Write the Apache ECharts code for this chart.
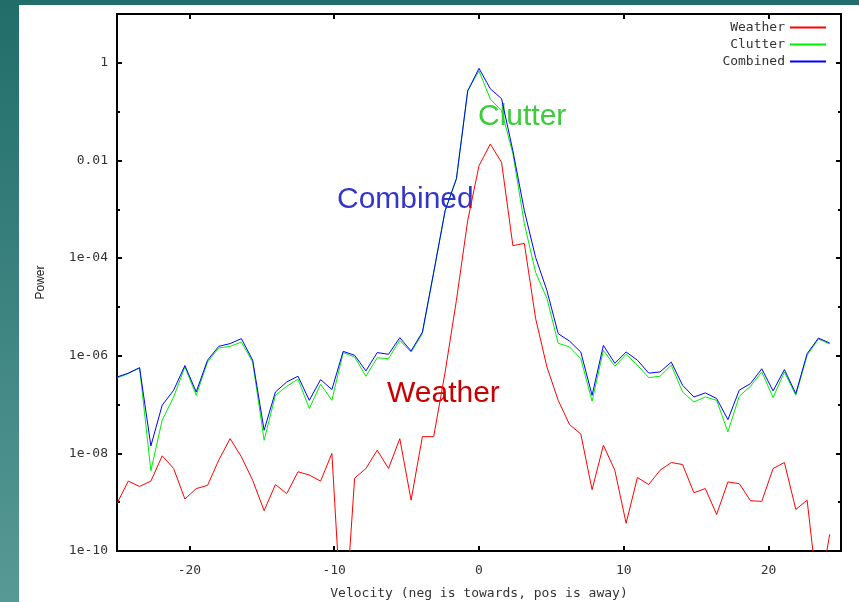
<!DOCTYPE html>
<html>
<head>
<meta charset="utf-8">
<script src="https://cdn.jsdelivr.net/npm/echarts@6/dist/echarts.min.js"></script>
<style>
  html, body { margin: 0; padding: 0; width: 859px; height: 602px; overflow: hidden; }
  body { background: linear-gradient(#216d6a, #579995); position: relative; }
  #paper { position: absolute; left: 19px; top: 5px; right: 0; bottom: 0; background: #fff; }
  #main { position: absolute; left: 0; top: 0; width: 859px; height: 602px; }
</style>
</head>
<body>
<div id="paper"></div>
<div id="main"></div>
<script>
// velocity bins (m/s)
var velocity = [-25, -24.22, -23.44, -22.66, -21.88, -21.09, -20.31, -19.53, -18.75, -17.97,
  -17.19, -16.41, -15.63, -14.84, -14.06, -13.28, -12.5, -11.72, -10.94, -10.16,
  -9.38, -8.59, -7.81, -7.03, -6.25, -5.47, -4.69, -3.91, -3.13, -2.34,
  -1.56, -0.78, 0, 0.78, 1.56, 2.34, 3.13, 3.91, 4.69, 5.47,
  6.25, 7.03, 7.81, 8.59, 9.38, 10.16, 10.94, 11.72, 12.5, 13.28,
  14.06, 14.84, 15.63, 16.41, 17.19, 17.97, 18.75, 19.53, 20.31, 21.09,
  21.88, 22.66, 23.44, 24.22];

var weather = [9.4e-10, 2.7e-9, 2.1e-9, 2.7e-9, 8.9e-9, 4.9e-9, 1.16e-9, 1.9e-9, 2.2e-9, 7.3e-9,
  2.0e-8, 8.5e-9, 2.8e-9, 6.7e-10, 2.3e-9, 1.5e-9, 4.2e-9, 3.6e-9, 2.7e-9, 1.0e-8,
  1e-12, 3.1e-9, 4.9e-9, 1.16e-8, 4.9e-9, 2.0e-8, 1.1e-9, 2.2e-8, 2.2e-8, 4.6e-7,
  1.36e-5, 5.9e-4, 7.8e-3, 0.0217, 9.1e-3, 1.8e-4, 2.0e-4, 5.8e-6, 5.9e-7, 1.22e-7,
  3.9e-8, 2.5e-8, 1.8e-9, 1.47e-8, 4.5e-9, 3.7e-10, 3.2e-9, 2.3e-9, 4.5e-9, 6.5e-9,
  5.9e-9, 1.56e-9, 1.9e-9, 5.6e-10, 2.6e-9, 2.4e-9, 1.07e-9, 1.04e-9, 4.9e-9, 6.5e-9,
  7.1e-10, 1.1e-9, 1e-11, 2.2e-10];

var clutter = [3.5e-7, 4.3e-7, 5.6e-7, 4.4e-9, 4.8e-8, 1.43e-7, 5.9e-7, 1.55e-7, 7.4e-7, 1.44e-6,
  1.56e-6, 1.9e-6, 7.4e-7, 1.86e-8, 1.55e-7, 2.37e-7, 3.3e-7, 8.3e-8, 2.6e-7, 1.22e-7,
  1.16e-6, 9.4e-7, 3.8e-7, 9.1e-7, 8.7e-7, 2.07e-6, 1.19e-6, 2.83e-6, 5.0e-5, 9.2e-4,
  4.15e-3, 0.267, 0.685, 0.181, 0.104, 0.0138, 5.1e-4, 5.1e-5, 1.49e-5, 1.8e-6,
  1.51e-6, 8.7e-7, 1.17e-7, 1.29e-6, 6.1e-7, 1.07e-6, 6.4e-7, 3.56e-7, 3.8e-7, 6.4e-7,
  1.81e-7, 1.13e-7, 1.43e-7, 1.22e-7, 2.75e-8, 1.48e-7, 2.37e-7, 4.65e-7, 1.39e-7, 4.65e-7,
  1.55e-7, 1.02e-6, 2.2e-6, 1.75e-6];

var combined = [3.66e-7, 4.4e-7, 5.7e-7, 1.42e-8, 9.7e-8, 1.96e-7, 6.3e-7, 1.81e-7, 8.1e-7, 1.56e-6,
  1.77e-6, 2.24e-6, 8.1e-7, 2.98e-8, 1.81e-7, 2.9e-7, 3.8e-7, 1.22e-7, 3.24e-7, 2.03e-7,
  1.23e-6, 1.02e-6, 4.9e-7, 1.16e-6, 1.07e-6, 2.34e-6, 1.25e-6, 3.05e-6, 5.1e-5, 9.4e-4,
  4.25e-3, 0.267, 0.77, 0.294, 0.184, 0.0158, 9.4e-4, 1.03e-4, 2.17e-5, 2.83e-6,
  2.0e-6, 1.19e-6, 1.55e-7, 1.63e-6, 7.0e-7, 1.19e-6, 8.1e-7, 4.4e-7, 4.65e-7, 7.4e-7,
  2.48e-7, 1.43e-7, 1.73e-7, 1.33e-7, 4.9e-8, 1.96e-7, 2.69e-7, 5.4e-7, 1.9e-7, 5.2e-7,
  1.68e-7, 1.1e-6, 2.3e-6, 1.82e-6];

var xTicks = [-20, -10, 0, 10, 20];
var seriesNames = ['Weather', 'Clutter', 'Combined'];
var seriesColors = ['#ff0000', '#00ee00', '#0000ff'];

var mono = 'DejaVu Sans Mono';

function pairs(vals) {
  return vals.map(function (v, i) { return [velocity[i], v]; });
}

function powerLabel(v) {
  var e = Math.round(Math.log10(v));
  if (e > 0) return '';
  if (e === 0) return '1';
  if (e >= -2) return String(Number(Math.pow(10, e).toFixed(-e)));
  var n = -e;
  return '1e-' + (n < 10 ? '0' + n : n);
}

function yAx(pos, interval, tickLen, showLabel, name) {
  return {
    type: 'log', logBase: 10, min: 1e-10, max: 10, interval: interval,
    position: pos,
    name: name || '',
    nameLocation: 'middle', nameGap: 70,
    nameTextStyle: { fontFamily: 'Liberation Sans', fontSize: 12, color: '#222' },
    axisLine: { show: true, onZero: false, lineStyle: { color: '#000', width: 2 } },
    axisTick: { show: true, inside: true, length: tickLen, lineStyle: { color: '#000', width: 2 } },
    axisLabel: { show: showLabel, showMaxLabel: false, formatter: powerLabel, fontFamily: mono, fontSize: 13, color: '#333', margin: 9 },
    splitLine: { show: false },
    minorTick: { show: false }
  };
}

function xAx(pos, showLabel, name) {
  return {
    type: 'value', min: -25, max: 25, position: pos,
    name: name || '',
    nameLocation: 'middle', nameGap: 36,
    nameTextStyle: { fontFamily: mono, fontSize: 13, color: '#333' },
    axisLine: { show: true, onZero: false, lineStyle: { color: '#000', width: 2 } },
    axisTick: { show: true, inside: true, length: 5, customValues: xTicks, lineStyle: { color: '#000', width: 2 } },
    axisLabel: { show: showLabel, customValues: xTicks, fontFamily: mono, fontSize: 13, color: '#333', margin: 13 },
    splitLine: { show: false }
  };
}

var myChart = echarts.init(document.getElementById('main'), null, { renderer: 'canvas' });

var legends = seriesNames.map(function (n, i) {
  return {
    data: [{ name: n, icon: 'rect', itemStyle: { color: seriesColors[i], borderWidth: 0 } }],
    right: 33, top: 21 + i * 17, orient: 'vertical', align: 'right',
    padding: 0, itemWidth: 36, itemHeight: 2, selectedMode: false,
    itemStyle: { color: seriesColors[i], borderWidth: 0 },
    textStyle: { fontFamily: mono, fontSize: 13, color: '#333' }
  };
});

option = {
  animation: false,
  backgroundColor: 'transparent',
  grid: { left: 117, right: 18, top: 14, bottom: 51, outerBoundsMode: 'none', containLabel: false },
  legend: legends,
  xAxis: [xAx('bottom', true, 'Velocity (neg is towards, pos is away)'), xAx('top', false)],
  yAxis: [
    yAx('left', 2, 5, true, 'Power'),
    yAx('left', 1, 3, false),
    yAx('right', 2, 5, false),
    yAx('right', 1, 3, false)
  ],
  series: [weather, clutter, combined].map(function (vals, i) {
    return {
      name: seriesNames[i], type: 'line', data: pairs(vals),
      symbol: 'none', color: seriesColors[i],
      itemStyle: { color: seriesColors[i] },
      lineStyle: { width: 1, color: seriesColors[i] },
      clip: true
    };
  }),
  graphic: [
    { type: 'text', left: 478, top: 102, style: { text: 'Clutter', fill: '#3ccc3c', font: '30px "Liberation Sans"' } },
    { type: 'text', left: 337, top: 185, style: { text: 'Combined', fill: '#3535c8', font: '30px "Liberation Sans"' } },
    { type: 'text', left: 387, top: 379, style: { text: 'Weather', fill: '#c80000', font: '30px "Liberation Sans"' } }
  ]
};

myChart.setOption(option);
</script>
</body>
</html>
